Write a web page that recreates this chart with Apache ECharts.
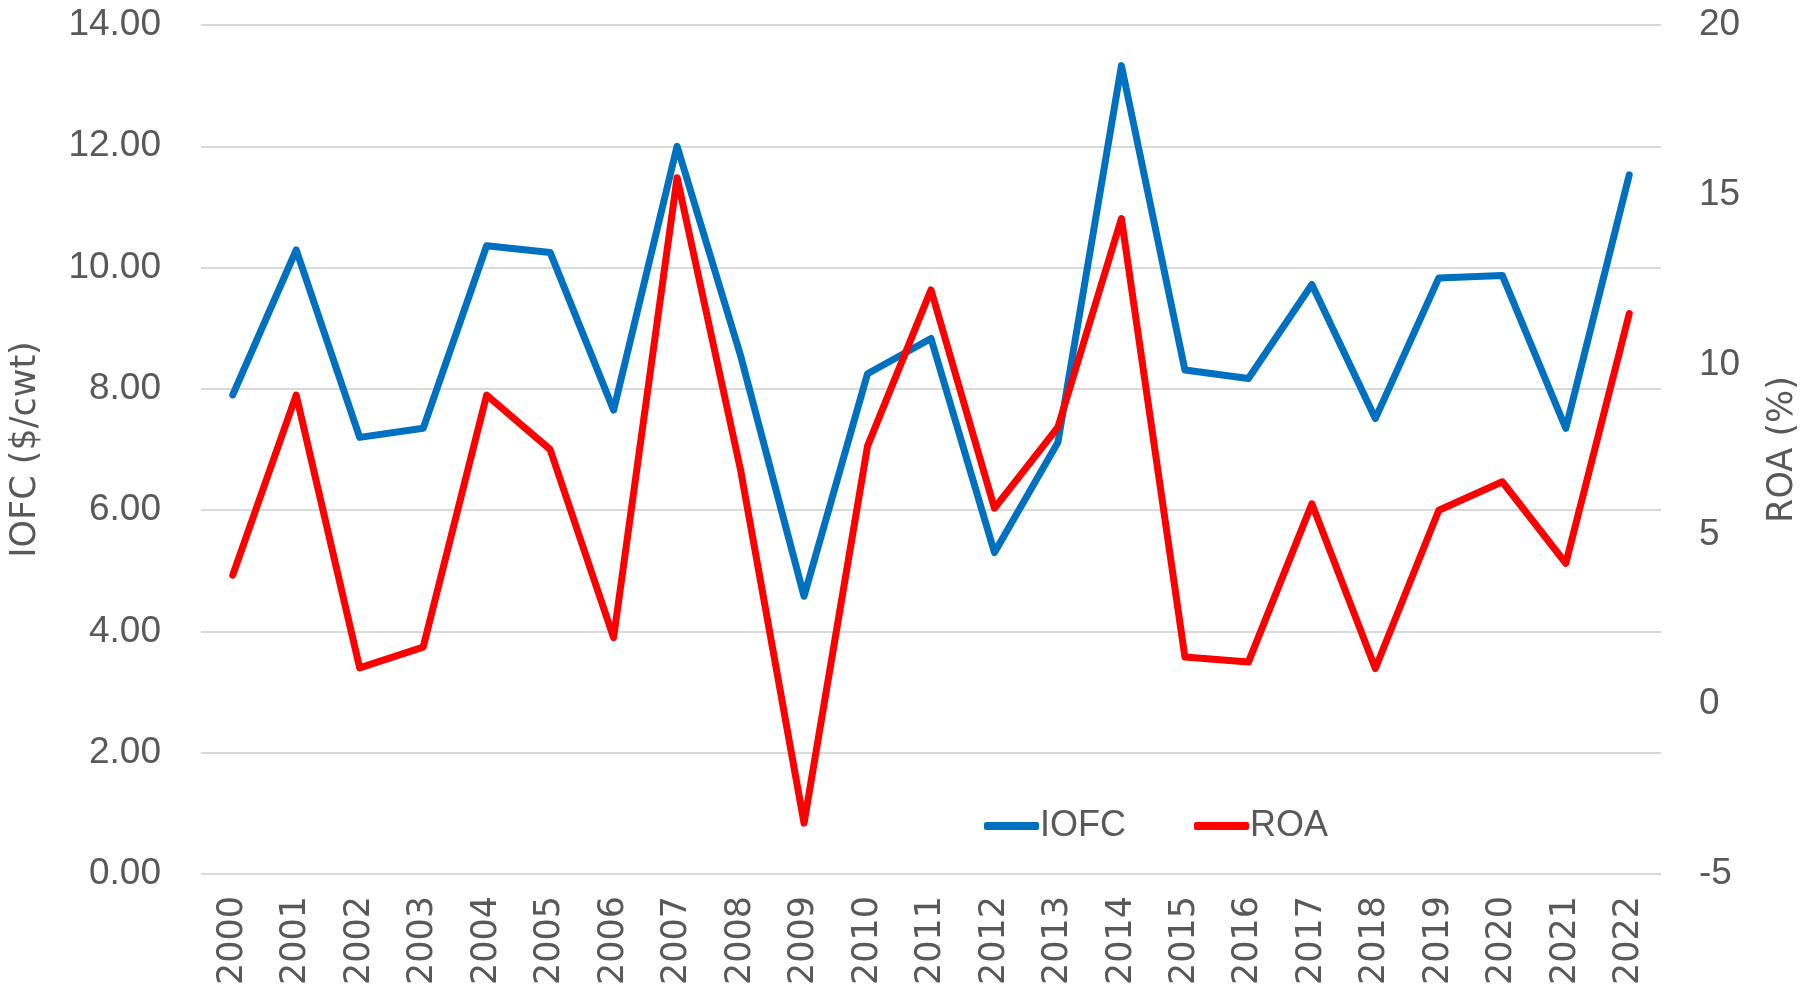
<!DOCTYPE html>
<html>
<head>
<meta charset="utf-8">
<script src="https://cdn.jsdelivr.net/npm/echarts@6/dist/echarts.min.js"></script>
<style>
  html, body { margin: 0; padding: 0; background: #fff; }
  #main { width: 1811px; height: 991px; }
</style>
</head>
<body>
<div id="main"></div>
<script>
  // years on the x axis
  var years = ['2000', '2001', '2002', '2003', '2004', '2005', '2006', '2007', '2008', '2009', '2010', '2011',
    '2012', '2013', '2014', '2015', '2016', '2017', '2018', '2019', '2020', '2021', '2022']

  // income over feed cost, $/cwt (left axis)
  var iofc = [7.90, 10.29, 7.20, 7.35, 10.36, 10.25, 7.65, 12.00, 8.55, 4.58, 8.25, 8.83,
    5.30, 7.12, 13.33, 8.31, 8.17, 9.72, 7.51, 9.83, 9.87, 7.35, 11.53]

  // return on assets, % (right axis)
  var roa = [3.8, 9.1, 1.07, 1.68, 9.1, 7.5, 1.96, 15.5, 6.9, -3.5, 7.6, 12.2,
    5.77, 8.16, 14.3, 1.39, 1.24, 5.9, 1.05, 5.71, 6.55, 4.15, 11.5]

  var labelColor = '#595959'
  var gridColor = '#D9D9D9'

  var myChart = echarts.init(document.getElementById('main'))

  myChart.setOption({
    animation: false,
    grid: {
      left: 199,
      right: 150,
      top: 25,
      bottom: 117
    },
    legend: {
      data: ['IOFC', 'ROA'],
      left: 979,
      top: 803,
      icon: 'roundRect',
      itemWidth: 55,
      itemHeight: 8,
      itemGap: 68,
      textStyle: {
        fontFamily: 'Liberation Sans',
        fontSize: 36,
        color: labelColor,
        padding: [0, 0, 0, -4]
      }
    },
    xAxis: {
      type: 'category',
      data: years,
      boundaryGap: true,
      axisLine: { show: false },
      axisTick: { show: false },
      axisLabel: {
        rotate: 90,
        margin: 22,
        fontFamily: 'DejaVu Sans',
        fontSize: 35,
        color: labelColor
      }
    },
    yAxis: [
      {
        type: 'value',
        name: 'IOFC ($/cwt)',
        nameLocation: 'middle',
        nameRotate: 90,
        nameGap: 158,
        nameTextStyle: {
          fontFamily: 'DejaVu Sans',
          fontSize: 35,
          color: labelColor
        },
        min: 0,
        max: 14,
        interval: 2,
        axisLine: { show: false },
        axisTick: { show: false },
        splitLine: { lineStyle: { color: gridColor, width: 2 } },
        axisLabel: {
          margin: 40,
          fontFamily: 'Liberation Sans',
          fontSize: 37,
          color: labelColor,
          formatter: function (v) { return v.toFixed(2) }
        }
      },
      {
        type: 'value',
        name: 'ROA (%)',
        nameLocation: 'middle',
        nameRotate: 90,
        nameGap: 104,
        nameTextStyle: {
          fontFamily: 'DejaVu Sans',
          fontSize: 35,
          color: labelColor
        },
        min: -5,
        max: 20,
        interval: 5,
        axisLine: { show: false },
        axisTick: { show: false },
        splitLine: { show: false },
        axisLabel: {
          margin: 38,
          fontFamily: 'Liberation Sans',
          fontSize: 37,
          color: labelColor
        }
      }
    ],
    series: [
      {
        name: 'IOFC',
        type: 'line',
        yAxisIndex: 0,
        data: iofc,
        showSymbol: false,
        color: '#0070C0',
        lineStyle: { width: 7, cap: 'round', join: 'round' }
      },
      {
        name: 'ROA',
        type: 'line',
        yAxisIndex: 1,
        data: roa,
        showSymbol: false,
        color: '#FF0000',
        lineStyle: { width: 7, cap: 'round', join: 'round' }
      }
    ]
  })
</script>
</body>
</html>
